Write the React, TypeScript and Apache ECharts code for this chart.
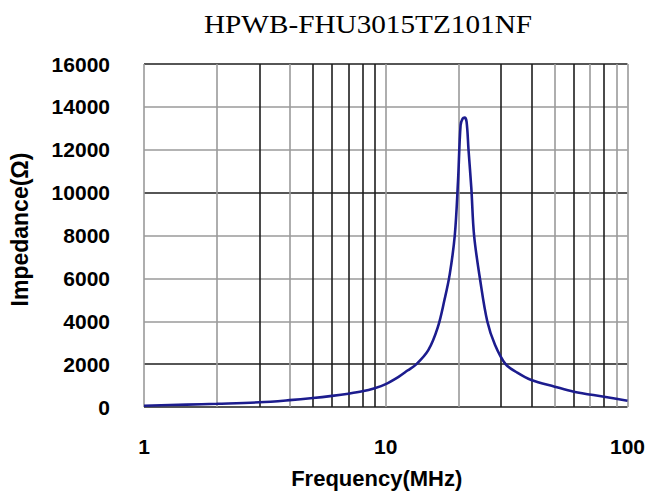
import React, { useEffect, useRef } from "react";
import * as echarts from "echarts";

const TITLE = "HPWB-FHU3015TZ101NF";
const X_NAME = "Frequency(MHz)";
const Y_NAME = "Impedance(Ω)";

// Frequency (MHz) and impedance (Ω)
const freq = [1, 1.5, 2, 3, 4, 5, 6, 7, 8, 9, 10, 11.3, 12.3, 13.4, 15, 16.4, 17.5, 18.4, 19.3, 19.9, 20.4, 20.8, 21.2, 21.6, 22.0, 22.6, 23.2, 24.6, 26.3, 28.3, 31.3, 35, 40, 50, 60, 80, 100];
const impedance = [60, 110, 150, 220, 320, 420, 520, 620, 730, 880, 1070, 1410, 1700, 2000, 2650, 3700, 5000, 6200, 8000, 10500, 13150, 13450, 13500, 13300, 12000, 10200, 8000, 5900, 4000, 2900, 2000, 1600, 1260, 950, 715, 480, 295];

// Vertical grid lines (log decades) and their shade: 1 = dark, 0 = light
const xGridValues = [1, 2, 3, 4, 5, 6, 7, 8, 9, 10, 20, 30, 40, 50, 60, 70, 80, 90, 100];
const xGridDark = [0, 0, 1, 0, 1, 1, 1, 1, 1, 0, 0, 1, 1, 0, 1, 0, 1, 0, 0];
// Horizontal grid shades for ticks 0, 2000, ..., 16000
const yGridDark = [1, 1, 0, 0, 0, 1, 0, 0, 1];

const DARK = "#1e1e1e";
const LIGHT = "#9a9a9a";

export default function App() {
  const ref = useRef<HTMLDivElement>(null);
  useEffect(() => {
    if (!ref.current) return;
    const chart = echarts.init(ref.current, null, { renderer: "svg" });
    const data = freq.map((f, i) => [f, impedance[i]]);
    const vLines = xGridValues.map((v, i) => ({
      xAxis: v,
      lineStyle: { color: xGridDark[i] ? DARK : LIGHT, width: 1.6, type: "solid" },
    }));
    chart.setOption({
      animation: false,
      backgroundColor: "#ffffff",
      grid: { left: 141, right: 17, top: 64, bottom: 92, containLabel: false },
      graphic: [
        {
          type: "text",
          x: 368,
          y: 25,
          scaleX: 1.17,
          style: {
            text: TITLE,
            font: '25px "Liberation Serif"',
            fill: "#000",
            textAlign: "center",
            textVerticalAlign: "middle",
          },
        },
      ],
      xAxis: {
        type: "log",
        logBase: 10,
        min: 1,
        max: 100,
        name: X_NAME,
        nameLocation: "middle",
        nameGap: 60,
        nameTextStyle: {
          fontFamily: "Liberation Sans",
          fontWeight: "bold",
          fontSize: 22,
          color: "#000",
          padding: [0, 18, 0, 0],
        },
        axisLine: { show: false },
        axisTick: { show: false },
        splitLine: { show: false },
        minorSplitLine: { show: false },
        axisLabel: {
          margin: 29,
          fontFamily: "Liberation Sans",
          fontWeight: "bold",
          fontSize: 21,
          color: "#000",
          formatter: (v: number) => String(v),
        },
      },
      yAxis: {
        type: "value",
        min: 0,
        max: 16000,
        interval: 2000,
        name: Y_NAME,
        nameLocation: "middle",
        nameGap: 113,
        nameTextStyle: {
          fontFamily: "Liberation Sans",
          fontWeight: "bold",
          fontSize: 23,
          color: "#000",
          padding: [0, 0, 0, 12],
        },
        axisLine: { show: false },
        axisTick: { show: false },
        splitLine: {
          show: true,
          lineStyle: { color: yGridDark.map((d) => (d ? DARK : LIGHT)), width: 1.6 },
        },
        axisLabel: {
          margin: 34,
          fontFamily: "Liberation Sans",
          fontWeight: "bold",
          fontSize: 21,
          color: "#000",
          formatter: (v: number) => String(v),
        },
      },
      series: [
        {
          type: "line",
          data,
          z: 1,
          symbol: "none",
          silent: true,
          lineStyle: { opacity: 0 },
          markLine: {
            silent: true,
            symbol: ["none", "none"],
            label: { show: false },
            data: vLines,
          },
        },
        {
          type: "line",
          data,
          z: 5,
          symbol: "none",
          smooth: 0.35,
          lineStyle: { color: "#1c1c8e", width: 2.6 },
        },
      ],
    });
    return () => chart.dispose();
  }, []);
  return (
    <div
      ref={ref}
      style={{ position: "absolute", left: 0, top: 0, width: 648, height: 499 }}
    />
  );
}
